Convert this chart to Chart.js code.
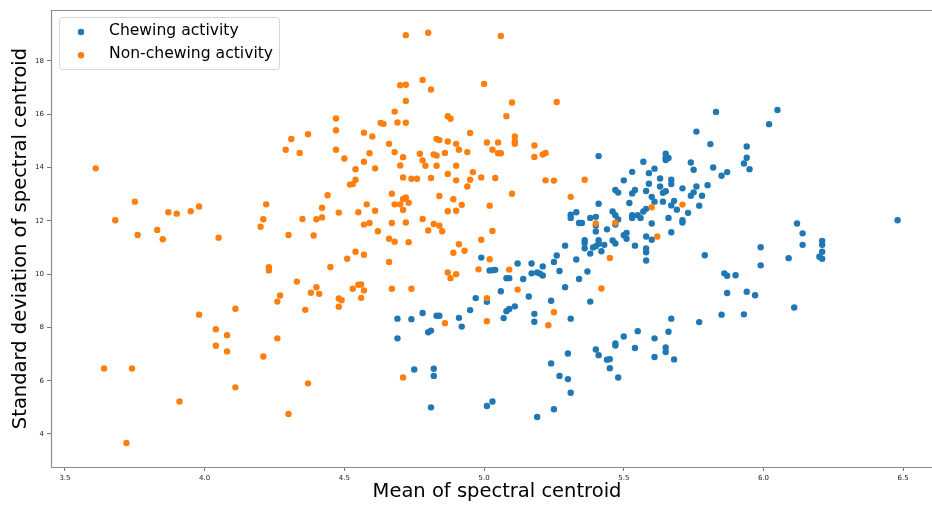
<!DOCTYPE html>
<html>
<head>
<meta charset="utf-8">
<script src="https://cdn.jsdelivr.net/npm/chart.js@4"></script>
<style>
  html, body { margin: 0; padding: 0; background: #fff; overflow: hidden; }
  #wrap { width: 947px; height: 506px; }
</style>
</head>
<body>
<div id="wrap"><canvas id="chart" width="947" height="506"></canvas></div>
<script>
// ─── Data (mean, std of spectral centroid) ───────────────────────────────────
const seriesLabels = ['Chewing activity', 'Non-chewing activity'];
const xTitle = 'Mean of spectral centroid';
const yTitle = 'Standard deviation of spectral centroid';
const xTicks = [3.5, 4.0, 4.5, 5.0, 5.5, 6.0, 6.5];
const yTicks = [4, 6, 8, 10, 12, 14, 16, 18];

const chewingPoints = [
    [4.69,8.33],[4.74,8.31],[4.69,7.59],[4.75,6.42],[4.80,7.82],[4.81,7.88],[4.82,6.45],[4.82,6.18],
    [4.81,5.00],[5.01,5.05],[5.03,5.22],[5.19,4.64],[5.25,4.93],[5.24,6.65],[5.27,6.18],[5.30,7.02],
    [5.30,6.06],[5.31,5.55],[5.55,7.86],[5.50,7.66],[5.66,7.84],[5.61,7.59],[5.47,7.40],[5.47,7.32],
    [5.40,7.17],[5.41,6.96],[5.54,7.23],[5.65,7.25],[5.65,7.08],[5.61,6.89],[5.68,6.80],[5.44,6.79],
    [5.45,6.81],[5.45,6.47],[5.48,6.12],[5.31,8.33],[5.67,8.33],[5.77,8.20],[5.38,8.97],[5.34,9.82],
    [5.37,10.10],[5.33,10.55],[5.58,10.51],[5.85,8.48],[5.93,8.49],[6.11,8.75],[5.94,9.34],[5.97,9.21],
    [5.87,9.29],[5.86,10.03],[5.87,9.94],[5.90,9.96],[5.99,10.33],[6.09,10.60],[6.20,10.65],[6.21,10.84],
    [6.21,10.58],[6.21,11.25],[6.21,11.10],[6.14,11.10],[6.14,11.53],[6.12,11.90],[5.99,11.01],[6.48,12.02],
    [5.79,10.71],[5.58,10.82],[5.42,10.86],[5.38,10.77],[5.29,9.51],[5.27,10.12],[5.26,10.70],[5.25,10.46],
    [5.29,11.07],[5.24,9.00],[4.99,10.62],[5.12,10.40],[5.17,10.40],[5.21,10.29],[5.02,10.14],[5.04,10.16],
    [5.03,10.15],[5.17,10.03],[5.19,10.06],[5.20,10.02],[5.21,9.95],[5.08,9.85],[5.09,9.85],[5.14,9.82],
    [5.06,9.36],[5.16,9.16],[4.97,9.10],[5.01,8.96],[5.11,8.79],[5.08,8.61],[5.09,8.69],[4.95,8.65],
    [4.78,8.54],[4.83,8.44],[4.84,8.44],[4.91,8.36],[5.18,8.51],[5.07,8.35],[5.18,8.21],[4.92,8.03],
    [5.83,16.09],[6.05,16.16],[6.02,15.63],[5.76,15.35],[5.81,14.88],[5.94,14.79],[5.94,14.37],[5.93,14.15],
    [5.95,13.94],[5.85,13.69],[5.87,13.83],[5.41,14.43],[5.65,14.52],[5.65,14.36],[5.66,14.36],[5.65,14.28],
    [5.57,14.22],[5.74,14.19],[5.75,13.92],[5.82,14.00],[5.53,13.84],[5.59,13.79],[5.61,13.96],[5.50,13.52],
    [5.63,13.59],[5.67,13.54],[5.67,13.38],[5.59,13.39],[5.63,13.29],[5.71,13.22],[5.76,13.29],[5.80,13.34],
    [5.47,13.16],[5.48,13.06],[5.54,13.16],[5.53,13.03],[5.58,13.12],[5.65,13.11],[5.64,13.05],[5.75,13.07],
    [5.74,12.94],[5.78,12.94],[5.60,12.90],[5.61,12.72],[5.52,12.67],[5.64,12.72],[5.68,12.75],[5.67,12.58],
    [5.41,12.64],[5.58,12.45],[5.57,12.35],[5.77,12.57],[5.69,12.42],[5.73,12.30],[5.66,12.11],[5.71,12.02],
    [5.71,11.94],[5.60,11.90],[5.67,11.57],[5.31,12.23],[5.31,12.11],[5.33,12.32],[5.38,12.11],[5.40,12.15],
    [5.46,12.35],[5.47,12.21],[5.48,12.05],[5.53,12.21],[5.53,12.11],[5.55,12.21],[5.56,12.11],[5.34,11.92],
    [5.35,11.92],[5.40,11.83],[5.47,11.86],[5.40,11.60],[5.44,11.68],[5.50,11.46],[5.51,11.55],[5.51,11.33],
    [5.58,11.41],[5.60,11.29],[5.46,11.26],[5.47,11.15],[5.54,11.07],[5.36,11.27],[5.36,11.17],[5.36,10.97],
    [5.41,11.27],[5.41,11.14],[5.40,11.05],[5.39,11.00],[5.43,11.10],[5.58,10.96]
];

const nonChewingPoints = [
    [3.61,13.97],[3.68,12.02],[3.75,12.72],[3.76,11.47],[3.83,11.66],[3.85,11.31],[3.87,12.32],[3.90,12.27],
    [3.95,12.36],[3.98,12.54],[4.05,11.37],[4.20,11.78],[4.21,12.06],[4.22,12.62],[3.64,6.46],[3.74,6.46],
    [3.72,3.66],[3.91,5.22],[3.98,8.48],[4.04,7.93],[4.04,7.31],[4.08,7.71],[4.08,7.10],[4.11,8.70],
    [4.11,5.75],[4.21,6.91],
    [4.72,18.97],[4.70,17.09],[4.72,17.11],[4.72,16.50],[4.68,16.10],[4.47,15.84],[4.63,15.67],[4.64,15.64],
    [4.69,15.69],[4.72,15.68],[4.47,15.40],[4.37,15.25],[4.31,15.07],[4.57,15.31],[4.60,15.17],[4.29,14.67],
    [4.34,14.55],[4.47,14.67],[4.66,14.89],[4.68,14.58],[4.50,14.34],[4.59,14.54],[4.71,14.39],[4.57,14.22],
    [4.70,14.08],[4.54,13.94],[4.61,13.97],[4.71,13.63],[4.74,13.58],[4.76,13.58],[4.54,13.54],[4.52,13.36],
    [4.53,13.38],[4.44,12.96],[4.67,13.02],[4.72,12.88],[4.71,12.82],[4.73,12.68],[4.68,12.62],[4.70,12.62],
    [4.58,12.62],[4.42,12.49],[4.71,12.41],[4.61,12.38],[4.35,12.07],[4.40,12.06],[4.42,12.13],[4.48,12.31],
    [4.55,12.32],[4.57,11.86],[4.59,11.92],[4.67,11.92],[4.72,11.94],[4.30,11.47],[4.39,11.45],[4.62,11.61],
    [4.66,11.33],
    [4.68,11.22],[4.73,11.20],[4.54,10.84],[4.51,10.58],[4.57,10.73],[4.23,10.26],[4.23,10.14],[4.45,10.27],
    [4.66,10.46],[4.33,9.72],[4.40,9.51],[4.38,9.30],[4.41,9.26],[4.27,9.20],[4.26,8.97],[4.53,9.45],
    [4.55,9.60],[4.56,9.61],[4.57,9.39],[4.67,9.45],[4.74,9.45],[4.48,9.09],[4.49,9.02],[4.56,9.11],
    [4.36,8.66],[4.48,8.78],[4.26,7.59],[4.37,5.90],[4.30,4.75],[4.71,6.12],
    [4.80,19.06],[5.06,18.94],[4.78,17.29],[4.81,16.93],[5.00,17.14],[5.10,16.44],[5.26,16.46],[5.08,15.93],
    [4.87,15.93],[4.88,15.83],[4.95,15.30],[4.83,15.07],[4.84,15.03],[4.87,14.98],[4.90,14.89],[5.01,14.94],
    [5.05,14.94],[5.11,15.17],[5.11,14.98],[5.11,14.89],[5.18,14.83],[4.77,14.52],[4.82,14.49],[4.83,14.45],
    [4.86,14.55],[4.91,14.67],[4.94,14.58],[5.03,14.67],[5.05,14.54],[5.06,14.54],[5.18,14.40],[5.21,14.49],
    [5.22,14.55],[4.78,14.27],[4.79,14.07],[4.83,14.07],[4.90,14.07],[4.81,13.61],[4.87,13.76],[4.90,13.52],
    [4.96,13.83],[4.95,13.54],[4.99,13.63],[5.04,13.61],[4.94,13.29],[5.22,13.52],[5.25,13.51],[5.10,13.02],
    [4.84,12.93],[4.89,12.81],
    [4.92,12.60],[5.02,12.57],[4.87,12.36],[4.90,12.38],[4.78,12.07],[4.82,11.88],[4.84,11.82],[4.80,11.64],
    [4.85,11.61],[5.03,11.62],[4.99,11.29],[4.91,11.12],[4.89,10.80],[4.93,10.88],[5.02,10.56],[4.98,10.18],
    [5.09,10.17],[4.87,10.06],[4.90,10.00],[4.88,9.85],[5.12,9.42],[5.01,9.10],[5.25,8.57],[4.86,8.16],
    [5.01,8.23],[5.23,8.08],
    [5.36,13.54],[5.31,12.90],[5.60,12.51],[5.71,12.61],[5.40,11.90],[5.47,11.93],[5.62,11.41],[5.45,10.61],
    [5.42,9.46]
];

const seriesColors = ['#1f77b4', '#ff7f0e'];
const FONT = "'DejaVu Sans', sans-serif";

const toXY = pts => pts.map(([x, y]) => ({ x, y }));

// ─── Plugins: axes frame + matplotlib-style legend box ───────────────────────
const framePlugin = {
    id: 'frame',
    afterDraw(chart) {
        const { ctx, chartArea: a } = chart;
        ctx.save();
        ctx.strokeStyle = '#8c8c8c';
        ctx.lineWidth = 1.2;
        // top, left, bottom spines (the right one falls outside the view)
        ctx.beginPath();
        ctx.moveTo(a.right + 1, a.top + 0.5);
        ctx.lineTo(a.left + 0.5, a.top + 0.5);
        ctx.lineTo(a.left + 0.5, a.bottom + 0.5);
        ctx.lineTo(a.right + 1, a.bottom + 0.5);
        ctx.stroke();
        ctx.restore();
    }
};

const legendPlugin = {
    id: 'mplLegend',
    afterDraw(chart) {
        const { ctx } = chart;
        const x = 59.5, y = 17.5, w = 220, h = 52, r = 3;
        ctx.save();
        ctx.beginPath();
        ctx.roundRect(x, y, w, h, r);
        ctx.fillStyle = 'rgba(255,255,255,0.8)';
        ctx.fill();
        ctx.strokeStyle = '#d6d6d6';
        ctx.lineWidth = 1;
        ctx.stroke();
        ctx.font = `15.6px ${FONT}`;
        ctx.textBaseline = 'middle';
        chart.data.datasets.forEach((ds, i) => {
            const cy = 32 + i * 23.2;
            ctx.beginPath();
            ctx.arc(81, cy, 3.2, 0, Math.PI * 2);
            ctx.fillStyle = ds.backgroundColor;
            ctx.fill();
            ctx.fillStyle = '#000';
            ctx.fillText(ds.label, 109, cy - 1.5);
        });
        ctx.restore();
    }
};

// ─── Scatter chart ───────────────────────────────────────────────────────────
const ctx = document.getElementById('chart').getContext('2d');

new Chart(ctx, {
    type: 'scatter',
    data: {
        datasets: [
            {
                label: seriesLabels[0],
                data: toXY(chewingPoints),
                backgroundColor: seriesColors[0],
                borderWidth: 0,
                pointRadius: 3.2,
                order: 2,
            },
            {
                label: seriesLabels[1],
                data: toXY(nonChewingPoints),
                backgroundColor: seriesColors[1],
                borderWidth: 0,
                pointRadius: 3.2,
                order: 1,
            }
        ]
    },
    options: {
        responsive: false,
        animation: false,
        events: [],
        layout: { padding: { top: 10, right: 0, bottom: 0, left: 0 } },
        plugins: {
            legend: { display: false },
            tooltip: { enabled: false },
        },
        scales: {
            x: {
                type: 'linear',
                min: 3.45,
                max: 6.6425,
                afterBuildTicks: s => { s.ticks = xTicks.map(v => ({ value: v })); },
                afterFit: s => { s.height = 39; },
                ticks: {
                    callback: v => Number(v).toFixed(1),
                    font: { family: FONT, size: 7 },
                    color: '#222',
                    padding: 3,
                    maxRotation: 0,
                    autoSkip: false,
                },
                grid: { drawOnChartArea: false, tickLength: 4, color: '#555', lineWidth: 0.8 },
                border: { display: false },
                title: {
                    display: true,
                    text: xTitle,
                    color: '#000',
                    font: { family: FONT, size: 19.5 },
                    padding: { top: 0, bottom: 2 },
                },
            },
            y: {
                type: 'linear',
                min: 2.761,
                max: 19.914,
                afterBuildTicks: s => { s.ticks = yTicks.map(v => ({ value: v })); },
                afterFit: s => { s.width = 51; },
                ticks: {
                    callback: v => String(v),
                    font: { family: FONT, size: 7 },
                    color: '#222',
                    padding: 3,
                    autoSkip: false,
                },
                grid: { drawOnChartArea: false, tickLength: 4, color: '#555', lineWidth: 0.8 },
                border: { display: false },
                title: {
                    display: true,
                    text: yTitle,
                    color: '#000',
                    font: { family: FONT, size: 19.5 },
                    padding: { top: 9, bottom: 0 },
                },
            }
        }
    },
    plugins: [framePlugin, legendPlugin]
});
</script>
</body>
</html>
